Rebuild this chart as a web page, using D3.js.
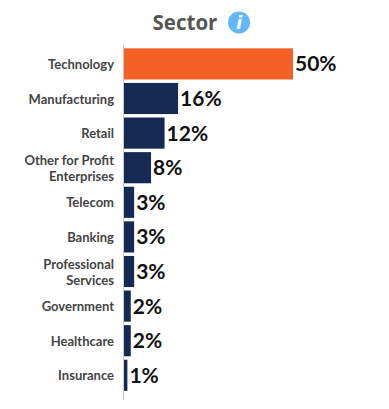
<!DOCTYPE html>
<html>
<head>
<meta charset="utf-8">
<script src="https://cdn.jsdelivr.net/npm/d3@7"></script>
<style>
html, body { margin: 0; padding: 0; background: #fff; }
svg { display: block; }
</style>
</head>
<body>
<svg id="chart" width="389" height="409"></svg>
<script>
var sectors = ["Technology", "Manufacturing", "Retail", "Other for Profit|Enterprises", "Telecom", "Banking", "Professional|Services", "Government", "Healthcare", "Insurance"]
var shares = [50, 16, 12, 8, 3, 3, 3, 2, 2, 1]
var barColors = ["#f46126", "#152a52"]

var svg = d3.select("#chart")

var x = d3.scaleLinear().domain([0, 50]).range([124, 293])
var y = d3.scaleBand().domain(sectors).range([46.6, 392.6]).paddingInner(0.1).paddingOuter(0.05)

// title and info badge
svg.append("text")
    .attr("x", 185)
    .attr("y", 30)
    .attr("text-anchor", "middle")
    .attr("font-family", "Open Sans")
    .attr("font-weight", 700)
    .attr("font-size", 20.5)
    .attr("fill", "#555")
    .text("Sector")

svg.append("circle").attr("cx", 239).attr("cy", 22.5).attr("r", 11).attr("fill", "#62b8f6")
svg.append("text")
    .attr("x", 239)
    .attr("y", 29)
    .attr("text-anchor", "middle")
    .attr("font-family", "DejaVu Sans")
    .attr("font-weight", 700)
    .attr("font-style", "italic")
    .attr("font-size", 18)
    .attr("fill", "#fff")
    .text("i")

// category axis, labels get wrapped on the | below
var yAxis = d3.axisLeft(y).tickSize(0).tickPadding(9).tickFormat("")
var axisG = svg.append("g").attr("transform", "translate(123.5,0)").call(yAxis)
axisG.select(".domain").remove()
axisG.append("line").attr("y1", 45).attr("y2", 400).attr("stroke", "#ccc")

axisG.selectAll(".tick text").each(function(d) {
    var lines = d.split("|")
    var t = d3.select(this)
        .attr("font-family", "Lato")
        .attr("font-weight", 700)
        .attr("font-size", 13)
        .attr("fill", "#444")
        .attr("dy", null)
    t.selectAll("tspan")
        .data(lines)
        .enter()
        .append("tspan")
        .attr("x", -9.5)
        .attr("y", function(l, i) { return 5 + (i - (lines.length - 1) / 2) * 16 })
        .text(function(l) { return l })
})

svg.append("g")
    .selectAll("rect")
    .data(sectors)
    .enter()
    .append("rect")
    .attr("x", x(0))
    .attr("y", function(d) { return y(d) })
    .attr("width", function(d, i) { return x(shares[i]) - x(0) })
    .attr("height", y.bandwidth())
    .attr("fill", function(d, i) { return i == 0 ? barColors[0] : barColors[1] })

svg.append("g")
    .selectAll("text")
    .data(sectors)
    .enter()
    .append("text")
    .attr("x", function(d, i) { return x(shares[i]) + 2 })
    .attr("y", function(d) { return y(d) + y.bandwidth() / 2 + 7.5 })
    .attr("font-family", "Lato")
    .attr("font-weight", 700)
    .attr("font-size", 21)
    .attr("fill", "#111")
    .text(function(d, i) { return shares[i] + "%" })
</script>
</body>
</html>
